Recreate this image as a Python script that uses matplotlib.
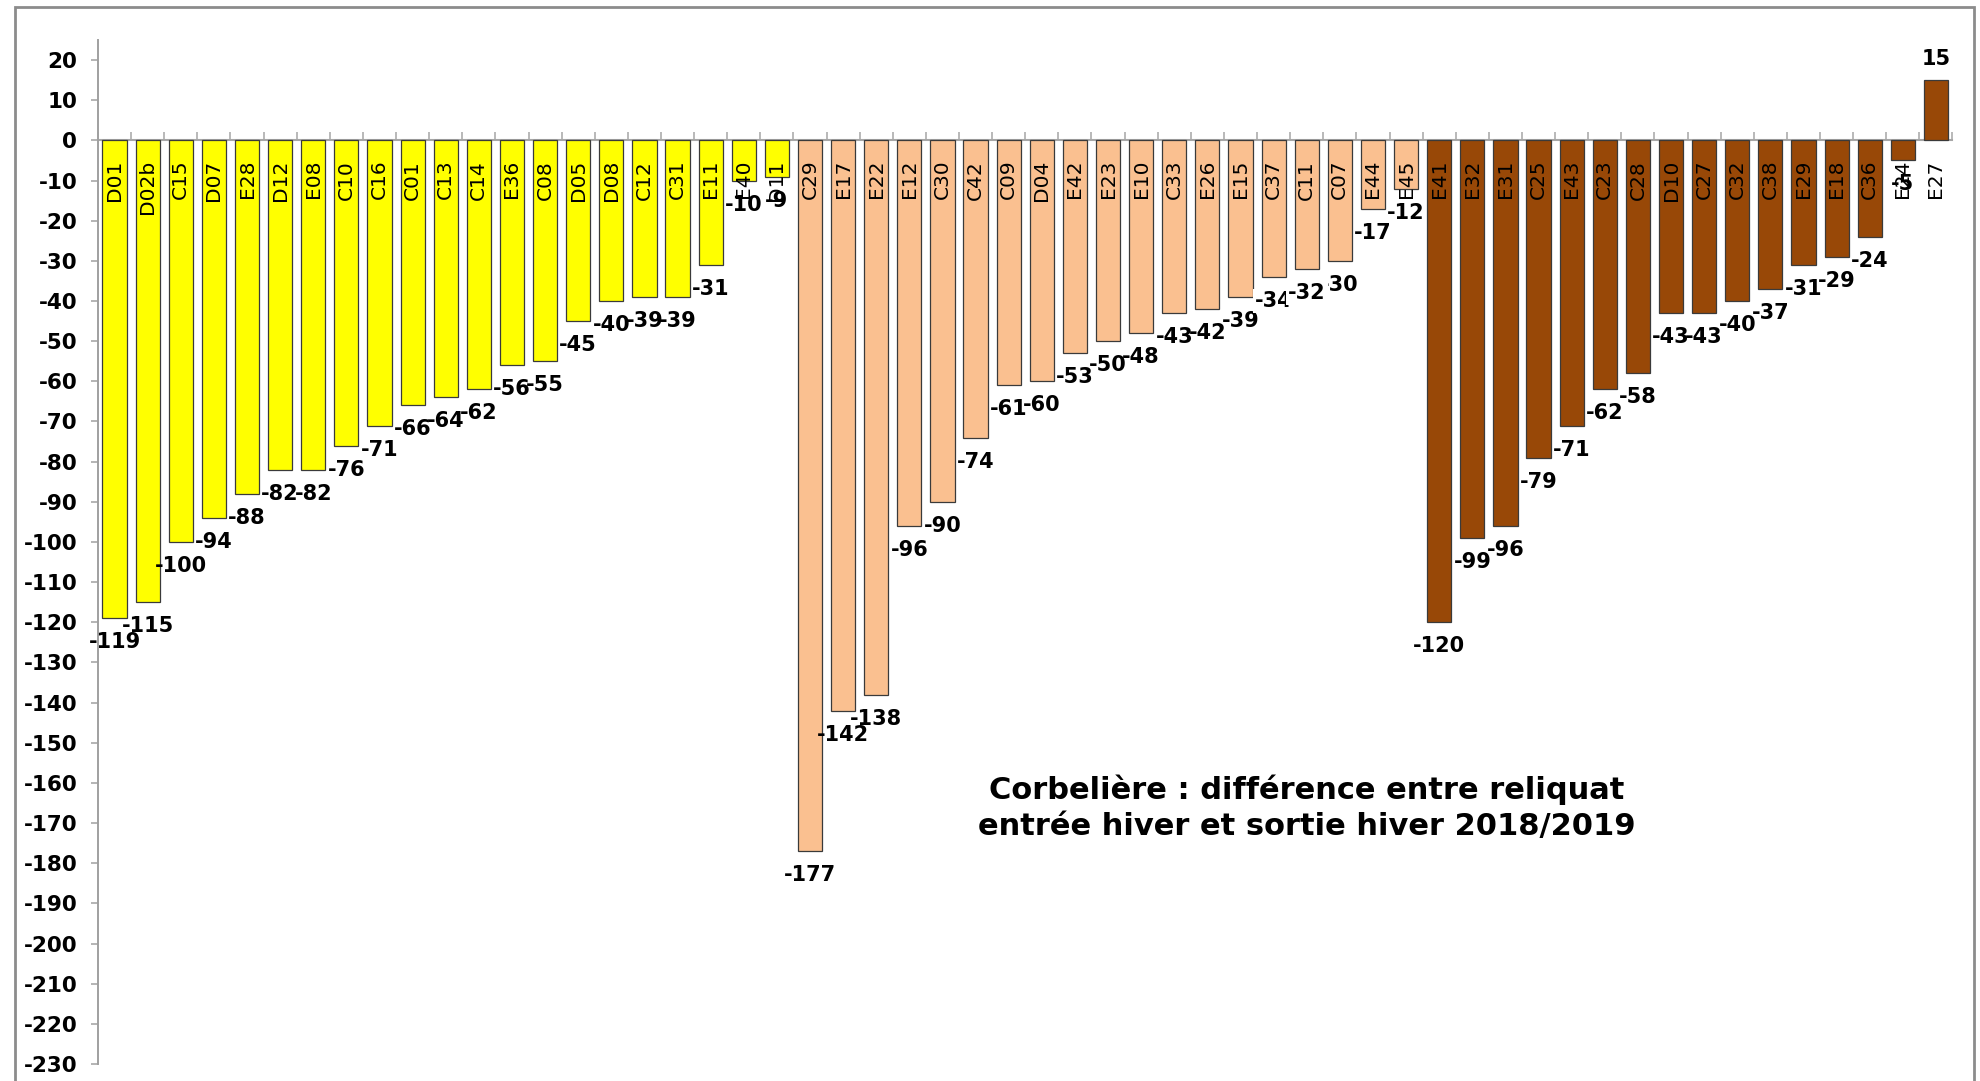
import matplotlib
matplotlib.use("Agg")
import matplotlib.pyplot as plt
from matplotlib.patches import Rectangle
import numpy as np

plt.rcParams["font.family"] = ["DejaVu Sans"]

# Parcel codes and winter nitrogen difference, three groups
yellow_names = ["D01", "D02b", "C15", "D07", "E28", "D12", "E08", "C10", "C16", "C01",
                "C13", "C14", "E36", "C08", "D05", "D08", "C12", "C31", "E11", "E40", "D11"]
yellow_values = [-119, -115, -100, -94, -88, -82, -82, -76, -71, -66,
                 -64, -62, -56, -55, -45, -40, -39, -39, -31, -10, -9]

peach_names = ["C29", "E17", "E22", "E12", "C30", "C42", "C09", "D04", "E42", "E23",
               "E10", "C33", "E26", "E15", "C37", "C11", "C07", "E44", "E45"]
peach_values = [-177, -142, -138, -96, -90, -74, -61, -60, -53, -50,
                -48, -43, -42, -39, -34, -32, -30, -17, -12]

brown_names = ["E41", "E32", "E31", "C25", "E43", "C23", "C28", "D10", "C27", "C32",
               "C38", "E29", "E18", "C36", "E24", "E27"]
brown_values = [-120, -99, -96, -79, -71, -62, -58, -43, -43, -40,
                -37, -31, -29, -24, -5, 15]

y_ticks = list(range(-230, 21, 10))
title = "Corbelière : différence entre reliquat\nentrée hiver et sortie hiver 2018/2019"

# labels printed on a white box
boxed_labels = ["C37", "C11"]

groups = [
    (yellow_names, yellow_values, "#FFFF00"),
    (peach_names, peach_values, "#FAC090"),
    (brown_names, brown_values, "#984807"),
]

names, values, colors = [], [], []
for g_names, g_values, g_color in groups:
    names += g_names
    values += g_values
    colors += [g_color] * len(g_names)
n = len(names)
x = np.arange(n)

W, H, DPI = 1980, 1081, 100
fig = plt.figure(figsize=(W / DPI, H / DPI), dpi=DPI)
ax = fig.add_axes([98 / W, (H - 1064) / H, (1952.5 - 98) / W, (1064 - 40) / H])

ax.bar(x, values, width=0.73, color=colors, edgecolor="#3a3a3a", linewidth=0.9, zorder=2)

ax.set_xlim(-0.5, n - 0.5)
ax.set_ylim(-230, 25)

# y axis
ax.set_yticks(y_ticks)
ax.set_yticklabels([str(t) for t in y_ticks], fontsize=15.5, fontweight="bold")
ax.tick_params(axis="y", direction="out", length=5, width=1.1, color="#A0A0A0", pad=10)

# category axis sits on the zero line, ticks between categories
ax.spines["bottom"].set_position(("data", 0))
ax.spines["bottom"].set_color("#A6A6A6")
ax.spines["bottom"].set_linewidth(1.5)
ax.spines["bottom"].set_zorder(1)
ax.set_xticks(np.arange(n + 1) - 0.5)
ax.set_xticklabels([])
ax.tick_params(axis="x", direction="in", length=6, width=1.1, color="#A6A6A6")
ax.spines["left"].set_color("#A0A0A0")
ax.spines["left"].set_linewidth(1.4)
ax.spines["top"].set_visible(False)
ax.spines["right"].set_visible(False)

# category names just under the zero line
for i, name in enumerate(names):
    ax.annotate(name, xy=(i, 0), xytext=(0, -14), textcoords="offset points",
                rotation=90, ha="center", va="top", fontsize=14.5, color="black",
                zorder=3)

# value labels at bar ends
z = 4
for i, (name, v) in enumerate(zip(names, values)):
    off = 15 if v >= 0 else -17.3
    kw = {}
    if name in boxed_labels:
        kw["bbox"] = dict(facecolor="white", edgecolor="none", pad=1.5)
        z += 1
    ax.annotate(str(v), xy=(i, v), xytext=(0, off), textcoords="offset points",
                ha="center", va="center", fontsize=15, fontweight="bold",
                color="black", zorder=z if name in boxed_labels else 4, **kw)

fig.text(1307 / W, 1 - 808 / H, title, ha="center", va="center",
         fontsize=22, fontweight="bold", linespacing=1.3)

# chart area border
fig.patches.append(Rectangle((15 / W, -0.05), (1974 - 15) / W, 1.05 - 7 / H,
                             transform=fig.transFigure, fill=False,
                             edgecolor="#8C8C8C", linewidth=2, zorder=0))

fig.savefig("out.png", dpi=DPI, facecolor="white")
